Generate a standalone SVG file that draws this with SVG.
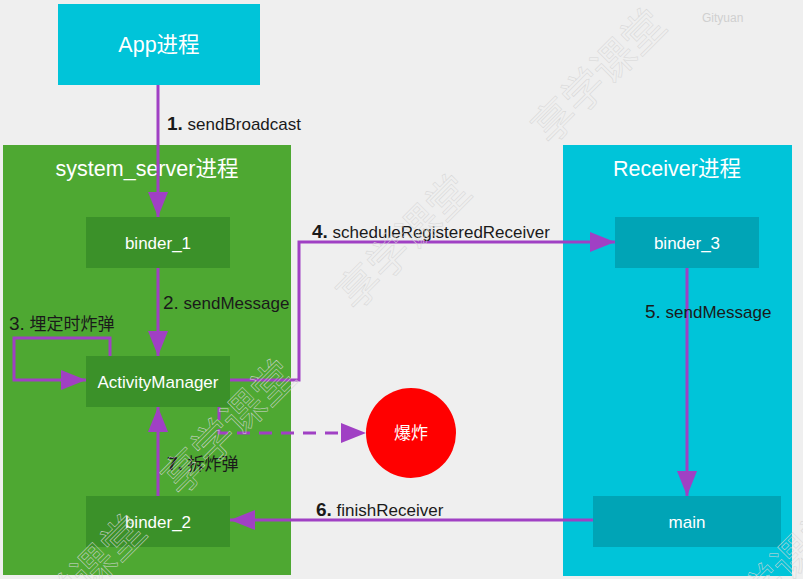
<svg xmlns="http://www.w3.org/2000/svg" width="803" height="579" viewBox="0 0 803 579">
<defs>
<style>
.bg{fill:#efefef}
.cyan{fill:#00c4d9}
.cyanD{fill:#00a4b6}
.green{fill:#4ea832}
.greenD{fill:#3b9129}
.title{font-family:"Liberation Sans","Noto Sans CJK SC",sans-serif;font-size:21.5px;fill:#ffffff;text-anchor:middle}
.node{font-family:"Liberation Sans","Noto Sans CJK SC",sans-serif;font-size:17px;fill:#ffffff;text-anchor:middle}
.lbl{font-family:"Liberation Sans","Noto Sans CJK SC",sans-serif;font-size:17px;fill:#1a1a1a}
.num{font-weight:bold;font-size:19px}
.n2{font-size:19px}
.edge{fill:none;stroke:#a040c4;stroke-width:3}
.dash{stroke-dasharray:13 9}
.wm{font-family:"Noto Sans CJK SC",sans-serif;font-size:42px;fill:none;stroke:#d6d6d6;stroke-width:0.5}
</style>
<marker id="arrL" viewBox="0 0 10 10" refX="10" refY="5" markerWidth="25" markerHeight="25" markerUnits="userSpaceOnUse" orient="auto">
<path d="M0,1 L10,5 L0,9 z" fill="#a040c4"/>
</marker>
</defs>
<rect class="bg" x="0" y="0" width="803" height="579"/>

<g id="app">
<rect class="cyan" x="58" y="4" width="202" height="81"/>
<text class="title" x="159" y="52">App进程</text>
</g>
<g id="system_server">
<rect class="green" x="3" y="145" width="288" height="430"/>
<text class="title" x="147" y="176">system_server进程</text>
</g>
<g id="receiver">
<rect class="cyan" x="563" y="145" width="229" height="431"/>
<text class="title" x="677" y="176">Receiver进程</text>
</g>
<g id="binder_1">
<rect class="greenD" x="86" y="217" width="144" height="51"/>
<text class="node" x="158" y="249">binder_1</text>
</g>
<g id="activity_manager">
<rect class="greenD" x="86" y="356" width="144" height="51"/>
<text class="node" x="158" y="388">ActivityManager</text>
</g>
<g id="binder_2">
<rect class="greenD" x="86" y="496" width="144" height="51"/>
<text class="node" x="158" y="528">binder_2</text>
</g>
<g id="binder_3">
<rect class="cyanD" x="615" y="217" width="144" height="51"/>
<text class="node" x="687" y="249">binder_3</text>
</g>
<g id="main">
<rect class="cyanD" x="593" y="496" width="188" height="51"/>
<text class="node" x="687" y="528">main</text>
</g>
<g id="explode">
<circle cx="411" cy="433" r="45" fill="#ff0000"/>
<text class="node" x="411" y="439">爆炸</text>
</g>

<g id="connectors">
<path class="edge" d="M158,85 V217" marker-end="url(#arrL)"/>
<path class="edge" d="M158,268 V356" marker-end="url(#arrL)"/>
<path class="edge" d="M110,356 V338 H14 V380 H86" marker-end="url(#arrL)"/>
<path class="edge" d="M230,380 H299 V242 H615" marker-end="url(#arrL)"/>
<path class="edge" d="M687,268 V496" marker-end="url(#arrL)"/>
<path class="edge" d="M593,520 H230" marker-end="url(#arrL)"/>
<path class="edge" d="M158,496 V407" marker-end="url(#arrL)"/>
<path class="edge dash" d="M219,407 V433 H366" marker-end="url(#arrL)"/>
</g>

<g id="labels">
<text class="lbl" x="167" y="130"><tspan class="num">1.</tspan> sendBroadcast</text>
<text class="lbl" x="163" y="309"><tspan class="n2">2.</tspan> sendMessage</text>
<text class="lbl" x="9" y="330"><tspan class="n2">3.</tspan> 埋定时炸弹</text>
<text class="lbl" x="312" y="238"><tspan class="num">4.</tspan> scheduleRegisteredReceiver</text>
<text class="lbl" x="645" y="318"><tspan class="n2">5.</tspan> sendMessage</text>
<text class="lbl" x="316" y="516"><tspan class="num">6.</tspan> finishReceiver</text>
<text class="lbl" x="167" y="470"><tspan class="num">7.</tspan> 拆炸弹</text>
<text x="702" y="22" font-family="Liberation Sans,sans-serif" font-size="12" fill="#d0d0d0">Gityuan</text>
</g>

<g id="watermarks">
<text class="wm" transform="translate(550,146) rotate(-45)">享学课堂</text>
<text class="wm" transform="translate(355,312) rotate(-45)">享学课堂</text>
<text class="wm" transform="translate(180,497) rotate(-45)">享学课堂</text>
<text class="wm" transform="translate(30,652) rotate(-45)">享学课堂</text>
<text class="wm" transform="translate(730,642) rotate(-45)">享学课堂</text>
</g>
</svg>
